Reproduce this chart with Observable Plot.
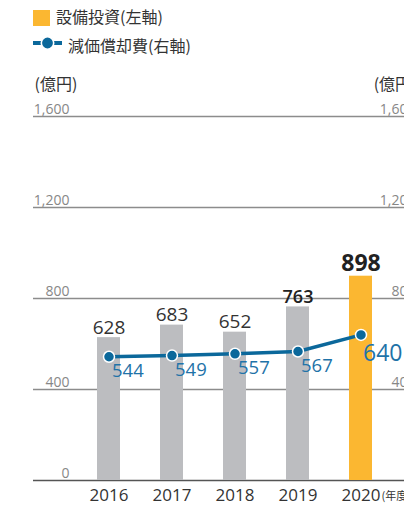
<!DOCTYPE html>
<html>
<head>
<meta charset="utf-8">
<script src="https://cdn.jsdelivr.net/npm/d3@7"></script>
<script src="https://cdn.jsdelivr.net/npm/@observablehq/plot@0.6"></script>
<style>
  html, body { margin: 0; padding: 0; background: #fff; overflow: hidden; }
  #wrap { position: relative; width: 404px; height: 506px; overflow: hidden; font-family: "Open Sans", "Noto Sans CJK JP", sans-serif; }
  #legend { position: relative; width: 404px; height: 60px; }
  .lg { position: absolute; font-family: "Noto Sans CJK JP", sans-serif; font-size: 16px; color: #333; line-height: 18px; white-space: nowrap; }
  #chart { position: absolute; left: 0; top: 60px; width: 420px; }
  #chart svg { max-width: none !important; }
</style>
</head>
<body>
<div id="wrap">
  <div id="legend">
    <div style="position:absolute;left:33px;top:10px;width:17px;height:16px;background:#fbb731;"></div>
    <div class="lg" style="left:56px;top:7px;">設備投資(左軸)</div>
    <svg style="position:absolute;left:31px;top:35px;" width="34" height="16">
      <line x1="2" y1="8" x2="31" y2="8" stroke="#0b689b" stroke-width="4"/>
      <circle cx="16.5" cy="8" r="6.2" fill="#0b689b" stroke="#fff" stroke-width="1.6"/>
    </svg>
    <div class="lg" style="left:68px;top:36px;">減価償却費(右軸)</div>
  </div>
  <div id="chart"></div>
</div>
<script>
const years = ["2016", "2017", "2018", "2019", "2020"];
const capex = [628, 683, 652, 763, 898];           // 設備投資 (億円)
const depreciation = [544, 549, 557, 567, 640];    // 減価償却費 (億円)
const tickValues = [0, 400, 800, 1200, 1600];
const tickLabels = ["0", "400", "800", "1,200", "1,600"];
const unitLabel = "(億円)";
const yearUnit = "(年度)";

const rows = years.map((y, i) => ({year: y, capex: capex[i], dep: depreciation[i], last: i === years.length - 1}));
const ticks = tickValues.map((v, i) => ({v, label: tickLabels[i]}));

const chart = Plot.plot({
  width: 420,
  height: 446,
  marginLeft: 33,
  marginRight: 0,
  marginTop: 56,
  marginBottom: 26,
  style: {fontFamily: "'Open Sans', 'Noto Sans CJK JP', sans-serif", background: "transparent", overflow: "visible", maxWidth: "none"},
  x: {type: "band", domain: years, range: [76.5, 391.5], paddingInner: 0.635, paddingOuter: 0.3175, axis: null},
  y: {domain: [0, 1600], axis: null},
  marks: [
    Plot.ruleY(ticks.filter(d => d.v > 0), {y: "v", stroke: "#8c8c8c", strokeWidth: 1.3}),
    Plot.ruleY([0], {stroke: "#555", strokeWidth: 1.3}),
    Plot.text(ticks, {y: "v", text: "label", frameAnchor: "left", dx: 36, dy: -3, textAnchor: "end", lineAnchor: "bottom", fontSize: 14, fill: "#878787"}),
    Plot.text(ticks.filter(d => d.v > 0), {y: "v", text: "label", frameAnchor: "right", dx: -5, dy: -3, textAnchor: "end", lineAnchor: "bottom", fontSize: 14, fill: "#878787"}),
    Plot.text([unitLabel], {frameAnchor: "top-left", dx: 1, dy: -27, textAnchor: "start", lineAnchor: "bottom", fontSize: 16, fill: "#333", fontFamily: "'Noto Sans CJK JP', sans-serif"}),
    Plot.text([unitLabel], {frameAnchor: "top-right", dx: -4, dy: -27, textAnchor: "end", lineAnchor: "bottom", fontSize: 16, fill: "#333", fontFamily: "'Noto Sans CJK JP', sans-serif"}),
    Plot.barY(rows, {x: "year", y: "capex", fill: d => d.last ? "#fbb731" : "#bcbdc0"}),
    Plot.text(rows.filter(d => !d.last && d.year !== "2019"), {x: "year", y: "capex", text: d => String(d.capex), dy: -4, lineAnchor: "bottom", fontSize: 19, fill: "#333"}),
    Plot.text(rows.filter(d => d.year === "2019"), {x: "year", y: "capex", text: d => String(d.capex), dy: -4, lineAnchor: "bottom", fontSize: 18, fontWeight: 600, fill: "#222"}),
    Plot.text(rows.filter(d => d.last), {x: "year", y: "capex", text: d => String(d.capex), dy: -5, lineAnchor: "bottom", fontSize: 23, fontWeight: 700, fill: "#222"}),
    Plot.line(rows, {x: "year", y: "dep", stroke: "#0b689b", strokeWidth: 3.5}),
    Plot.dot(rows, {x: "year", y: "dep", r: 5.5, fill: "#0b689b", stroke: "#fff", strokeWidth: 1.5}),
    Plot.text(rows.filter(d => !d.last), {x: "year", y: "dep", text: d => String(d.dep), dx: 3, dy: 20, textAnchor: "start", lineAnchor: "bottom", fontSize: 18.5, fill: "#1f73a8"}),
    Plot.text(rows.filter(d => d.last), {x: "year", y: "dep", text: d => String(d.dep), dx: 2, dy: 26, textAnchor: "start", lineAnchor: "bottom", fontSize: 23, fill: "#1f73a8"}),
    Plot.text(rows, {x: "year", text: "year", frameAnchor: "bottom", dy: 20, lineAnchor: "bottom", fontSize: 17, fill: "#333"}),
    Plot.text([yearUnit], {x: () => years[years.length - 1], frameAnchor: "bottom", dx: 20.5, dy: 19, textAnchor: "start", lineAnchor: "bottom", fontSize: 11, fill: "#333", fontFamily: "'Noto Sans CJK JP', sans-serif"})
  ]
});
document.getElementById("chart").appendChild(chart);
</script>
</body>
</html>
